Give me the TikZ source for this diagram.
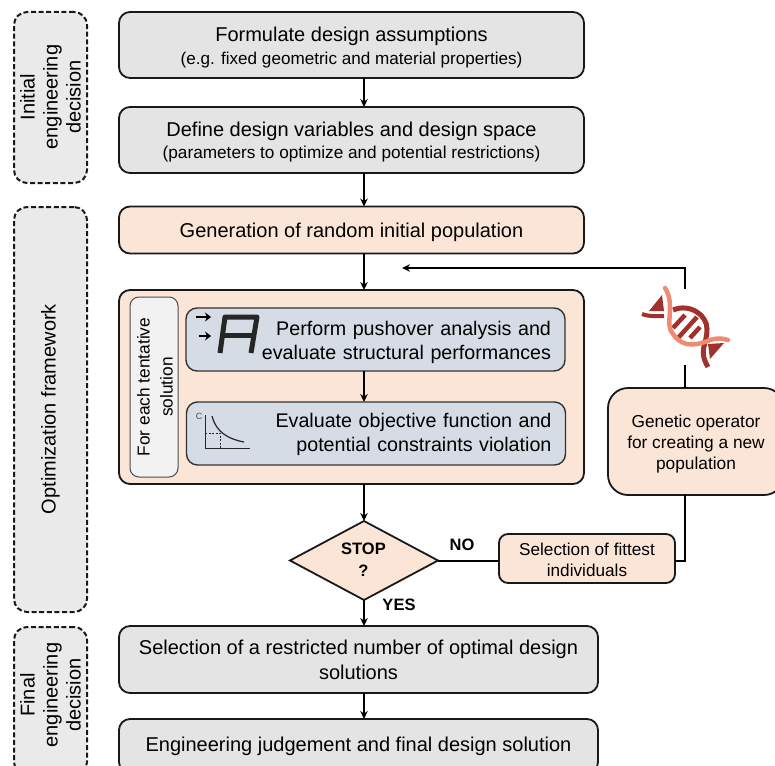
\documentclass[tikz,border=0pt]{standalone}
\usepackage{fontspec}
\setmainfont{Liberation Sans}
\usetikzlibrary{arrows.meta,shapes.geometric,calc}
\definecolor{greyfill}{HTML}{E4E4E4}
\definecolor{peach}{HTML}{FBE5D6}
\definecolor{bluegrey}{HTML}{D6DCE5}
\definecolor{sidefill}{HTML}{F2F2F2}
\definecolor{bandfill}{HTML}{EAEAEA}
\definecolor{dnadark}{HTML}{A0312D}
\definecolor{dnalight}{HTML}{F08A70}
\newcommand{\fs}[2]{\fontsize{#1}{#2}\selectfont}
\newcommand{\lift}[1]{\rule{0pt}{#1pt}}
\tikzset{
  x=1pt,y=-1pt,
  box/.style={draw=black!90,line width=1.8pt,rounded corners=11pt,align=center,inner sep=0pt,outer sep=0pt},
  greybox/.style={box,fill=greyfill},
  peachbox/.style={box,fill=peach},
  bluebox/.style={box,fill=bluegrey,draw=black!80,line width=1.4pt,align=right,text width=351pt,inner xsep=14pt,font=\fs{19.7}{24}},
  sidebox/.style={draw=black!90,dashed,dash pattern=on 5pt off 2.6pt,line width=2pt,rounded corners=13pt,fill=bandfill,inner sep=0pt,outer sep=0pt},
  sidelabel/.style={rotate=90,align=center,font=\fs{20}{23}},
  flow/.style={line width=2pt,-{Stealth[length=8pt,width=7.5pt]}},
  plain/.style={line width=2pt},
  title/.style={font=\fs{20}{24}},
  tag/.style={font=\bfseries\fs{16.5}{21}},
}
\begin{document}
\begin{tikzpicture}
\useasboundingbox (0,0) rectangle (775,765);
\clip (0,0) rectangle (775,765);
\coordinate (spine) at (364,0);

% left side bands
\node[sidebox,minimum width=73pt,minimum height=171pt] (band1) at (50.5,97.5) {};
\node[sidebox,minimum width=73pt,minimum height=405pt] (band2) at (50.5,409.5) {};
\node[sidebox,minimum width=73pt,minimum height=148pt] (band3) at (50.5,701) {};
\node[sidelabel] (band1t) at (50.5,97) {Initial\\engineering\\decision};
\node[sidelabel] (band2t) at (50.5,409) {Optimization framework};
\node[sidelabel] (band3t) at (50.5,695) {Final\\engineering\\decision};

% main boxes
\node[greybox,minimum width=465pt,minimum height=66pt] (a) at (351.5,45)
  {{\fs{20}{24}\lift{20}Formulate design assumptions}\\[6pt]{\fs{17.1}{21}(e.g. fixed geometric and material properties)}};
\node[greybox,minimum width=465pt,minimum height=66pt] (b) at (351.5,140)
  {{\fs{20}{23}\lift{19}Define design variables and design space}\\[4pt]{\fs{17.2}{21}(parameters to optimize and potential restrictions)}};
\node[peachbox,minimum width=465pt,minimum height=47pt,title] (c) at (351.5,230) {\lift{18.5}Generation of random initial population};
\node[peachbox,minimum width=465pt,minimum height=194pt] (d) at (351.5,387) {};
\node[draw=black!70,line width=1pt,rounded corners=9pt,fill=sidefill,minimum width=48pt,minimum height=180pt,inner sep=0pt,outer sep=0pt] (side) at (154,387) {};
\node[rotate=90,align=center,font=\fs{17.3}{23}] (sidet) at (155,387) {For each tentative\\solution};
\node[bluebox,minimum height=63pt] (e) at (375.5,339.5) {\lift{20}Perform pushover analysis and\\evaluate structural performances};
\node[bluebox,minimum height=63pt] (f) at (376,433.5) {\lift{17}Evaluate objective function and\\potential constraints violation};
\node[diamond,aspect=1.87,draw=black!90,line width=1.8pt,fill=peach,minimum width=148pt,minimum height=79pt,inner sep=0pt,outer sep=0pt] (stop) at (364,560.5) {};
\node[tag] (stopt) at (363.5,549) {STOP};
\node[tag] (stopq) at (363.5,571) {?};
\node[tag] (no) at (462,545) {NO};
\node[tag] (yes) at (399,605) {YES};
\node[peachbox,rounded corners=9pt,minimum width=176pt,minimum height=49pt,font=\fs{17.2}{21}] (sel) at (587,558.5) {\lift{15}Selection of fittest\\individuals};
\node[peachbox,rounded corners=20pt,minimum width=176pt,minimum height=107pt,font=\fs{17.3}{21}] (gen) at (696,441.5) {\lift{18}Genetic operator\\for creating a new\\population};
\node[greybox,minimum width=479pt,minimum height=67pt,font=\fs{20}{25}] (h) at (358.5,659.5) {Selection of a restricted number of optimal design\\solutions};
\node[greybox,minimum width=479pt,minimum height=54pt,title] (i) at (358.5,746) {Engineering judgement and final design solution};

% connectors
\draw[flow] (a.south -| spine) -- (b.north -| spine);
\draw[flow] (b.south -| spine) -- (c.north -| spine);
\draw[flow] (c.south -| spine) -- (d.north -| spine);
\draw[flow] (e.south -| spine) -- (f.north -| spine);
\draw[flow] (d.south -| spine) -- (stop.north);
\draw[flow] (stop.south) -- (h.north -| stop.south);
\draw[flow] (h.south -| spine) -- (i.north -| spine);
\draw[plain] (stop.east) -- (stop.east -| sel.west);
\coordinate (rail) at (685,0);
\coordinate (railtop) at (685,268);
\coordinate (dnatop) at (685,289);
\coordinate (dnabot) at (685,365);
\coordinate (loopend) at (402,268);
\draw[plain] (gen.north -| rail) -- (dnabot);
\draw[flow] (dnatop) -- (railtop) -- (loopend);
\draw[plain] (sel.east |- stop.east) -| (gen.south -| rail);

% DNA icon
\fill[dnadark] (662,295) -- (664,311) -- (649,311) -- cycle;
\draw[dnadark,line width=4pt] (642,314) .. controls (650,317) and (657,316) .. (664,316);
\draw[dnadark,line width=5pt] (673,310) .. controls (690,303) and (707,315) .. (707,329) .. controls (707,345) and (698,350) .. (708,367);
\draw[dnadark,line width=4.5pt] (673,328) -- (685,315);
\draw[dnadark,line width=4.5pt] (678,338) -- (697,317);
\draw[dnadark,line width=4.5pt] (690,338) -- (700,327);
\fill[dnadark] (710,359) -- (724,343) -- (708,344) -- cycle;
\draw[dnalight,line width=4.5pt,line cap=round] (665,288) .. controls (676,305) and (664,325) .. (673,334) .. controls (684,350) and (700,344) .. (710,340) .. controls (716,338) and (722,338) .. (728,340);

% pushover icon
\draw[line width=2.8pt,-{Stealth[length=6pt,width=9pt]}] (196,317) -- (211,317);
\draw[line width=2.8pt,-{Stealth[length=6pt,width=9pt]}] (199,336) -- (211,336);
\draw[line width=5pt,black!85,line join=round] (220,353) -- (225,317) -- (257,317) -- (251,353);
\draw[line width=5pt,black!85] (222,335) -- (254,335);

% objective icon
\draw[line width=1pt,black!85] (205,415) -- (205,448) -- (250,448);
\draw[line width=1.2pt,black!85] (212,416) .. controls (216,432) and (228,439) .. (244,442);
\draw[line width=.7pt,black!85,dashed,dash pattern=on 2pt off 1.5pt] (205,433) -- (220,433) -- (220,448);
\node[font=\fs{9}{10},text=black!70,inner sep=0pt] (clabel) at (199,416) {C};
\end{tikzpicture}
\end{document}
